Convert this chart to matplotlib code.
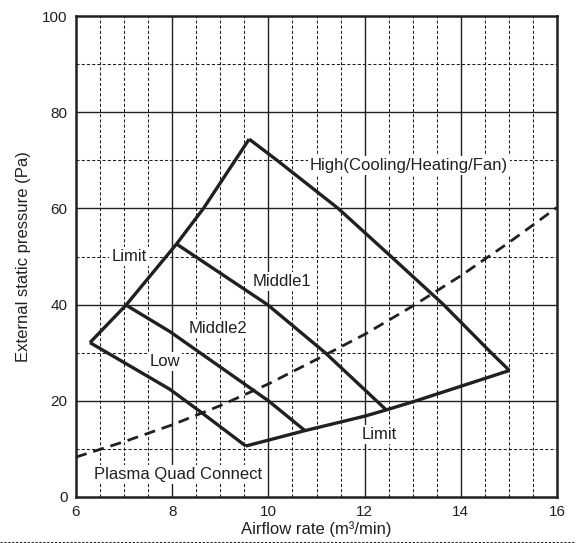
import matplotlib
matplotlib.use("Agg")
import matplotlib.pyplot as plt
from matplotlib.lines import Line2D

plt.rcParams['font.family'] = ['Liberation Sans', 'DejaVu Sans']

# Data
limit_left_x = [6.29, 7.04, 8.09, 8.65, 9.60]
limit_left_y = [32.1, 39.9, 52.6, 60.0, 74.4]

high_x = [9.60, 10.18, 11.45, 12.55, 13.64, 14.63, 15.01]
high_y = [74.4, 70.0, 60.0, 50.0, 40.0, 30.0, 26.3]

middle1_x = [8.09, 9.98, 11.18, 12.45]
middle1_y = [52.6, 40.0, 30.0, 18.1]

middle2_x = [7.04, 7.95, 10.00, 10.76]
middle2_y = [39.9, 34.4, 20.0, 13.8]

low_x = [6.29, 7.95, 8.63, 9.53]
low_y = [32.1, 22.4, 17.4, 10.6]

limit_bottom_x = [9.53, 10.76, 12.00, 12.45, 13.07, 15.01]
limit_bottom_y = [10.6, 13.8, 16.8, 18.1, 20.0, 26.3]

system_x = [6, 7, 8, 9, 10, 11, 12, 13, 14, 15, 16]
system_y = [8.3, 11.5, 15.0, 19.0, 23.5, 28.6, 33.8, 39.7, 46.0, 52.9, 60.2]

x_ticks = [6, 8, 10, 12, 14, 16]
y_ticks = [0, 20, 40, 60, 80, 100]

labels = [
    ("Limit", 7.10, 50.1),
    ("High(Cooling/Heating/Fan)", 12.92, 68.9),
    ("Middle1", 10.28, 44.9),
    ("Middle2", 8.95, 35.1),
    ("Low", 7.84, 28.1),
    ("Limit", 12.31, 13.0),
    ("Plasma Quad Connect", 8.13, 4.6),
]

ink = '#231f20'

fig = plt.figure(figsize=(5.76, 5.43), dpi=100)
ax = fig.add_axes([76/576, 1-497/543, (557-76)/576, (497-16)/543])
ax.set_xlim(6, 16)
ax.set_ylim(0, 100)

# grid
for xv in [6.5 + 0.5*i for i in range(19)]:
    if abs(xv % 2) < 1e-9:
        ax.axvline(xv, color=ink, lw=1.0, zorder=1)
    else:
        ax.axvline(xv, color=ink, lw=0.75, ls=(0, (3, 2)), zorder=1)
for yv in range(10, 100, 10):
    if yv % 20 == 0:
        ax.axhline(yv, color=ink, lw=1.0, zorder=1)
    else:
        ax.axhline(yv, color=ink, lw=0.75, ls=(0, (3, 2)), zorder=1)

lw = 2.4
for xs, ys in [(limit_left_x, limit_left_y), (high_x, high_y), (middle1_x, middle1_y),
               (middle2_x, middle2_y), (low_x, low_y), (limit_bottom_x, limit_bottom_y)]:
    ax.plot(xs, ys, color=ink, lw=lw, solid_joinstyle='miter', solid_capstyle='butt', zorder=3)

ax.plot(system_x, system_y, color=ink, lw=2.0, ls=(0, (4, 2.5)), zorder=3)

for txt, xv, yv in labels:
    ax.text(xv, yv, txt, ha='center', va='center', fontsize=12, color=ink, zorder=4,
            bbox=dict(facecolor='white', edgecolor='none', pad=1.5))

ax.set_xticks(x_ticks)
ax.set_yticks(y_ticks)
ax.tick_params(length=0, labelsize=11, colors=ink, pad=6)
for s in ax.spines.values():
    s.set_linewidth(1.8)
    s.set_color(ink)
    s.set_zorder(5)

ax.set_xlabel("Airflow rate (m³/min)", fontsize=12, color=ink, labelpad=1)
ax.set_ylabel("External static pressure (Pa)", fontsize=12, color=ink, labelpad=8)

fig.add_artist(Line2D([0, 1], [1-541.5/543, 1-541.5/543], transform=fig.transFigure,
                      color=ink, lw=0.8, ls=(0, (2, 1.5))))

fig.savefig("out.png", dpi=100)
